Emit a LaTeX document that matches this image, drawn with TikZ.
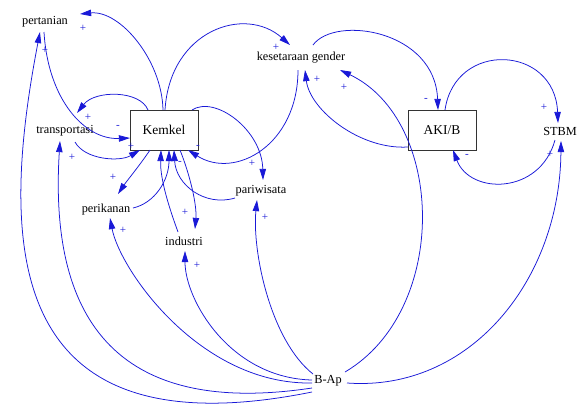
\documentclass[tikz,border=0pt]{standalone}
\usepackage{fontspec}
\setmainfont{Liberation Serif}
\usetikzlibrary{arrows.meta}
\definecolor{arcblue}{RGB}{25,25,215}
\tikzset{
  txt/.style={inner sep=1pt,font=\fontsize{10.5}{12}\selectfont},
  boxnode/.style={draw=black!80,line width=0.7pt,minimum width=2.04cm,minimum height=1.2cm,inner sep=0pt,font=\fontsize{11.5}{13}\selectfont},
  arc/.style={draw=arcblue,line width=0.65pt,-{Triangle[length=9.5pt,width=5.5pt]}},
  sgn/.style={text=arcblue,inner sep=0pt,font=\fontsize{9.5}{9.5}\selectfont}
}
\begin{document}
\begin{tikzpicture}[x=0.03cm,y=-0.03cm]
\useasboundingbox (0,0) rectangle (579,410);
% nodes
\node[txt] (pertanian) at (45,22) {pertanian};
\node[txt] (transportasi) at (65,131) {transportasi};
\node[boxnode] (kemkel) at (164,130) {Kemkel};
\node[txt] (gender) at (301,58) {kesetaraan gender};
\node[boxnode] (akib) at (442,130) {AKI/B};
\node[txt] (stbm) at (560,131) {STBM};
\node[txt] (pariwisata) at (261,191) {pariwisata};
\node[txt] (perikanan) at (106,210) {perikanan};
\node[txt] (industri) at (184,241) {industri};
\node[txt] (bap) at (328,381) {B-Ap};
% connectors
\draw[arc] ([shift={(-1,-20)}]kemkel.center) .. controls (162,60) and (120,10) .. ([shift={(35,-8)}]pertanian.center);
\draw[arc] ([shift={(1,-20)}]kemkel.center) .. controls (170,30) and (245,5) .. ([shift={(-11,-13)}]gender.center);
\draw[arc] ([shift={(-1,10)}]pertanian.center) .. controls (48,100) and (85,140) .. ([shift={(-34,8)}]kemkel.center);
\draw[arc] ([shift={(-16,-20)}]kemkel.center) .. controls (140,90) and (95,90) .. ([shift={(12,-18)}]transportasi.center);
\draw[arc] ([shift={(10,11)}]transportasi.center) .. controls (85,160) and (120,162) .. ([shift={(-24,20)}]kemkel.center);
\draw[arc] ([shift={(-14,20)}]kemkel.center) .. controls (140,165) and (126,182) .. ([shift={(12,-16)}]perikanan.center);
\draw[arc] ([shift={(27,-2)}]perikanan.center) .. controls (155,203) and (169,180) .. ([shift={(5,20)}]kemkel.center);
\draw[arc] ([shift={(-6,-9)}]industri.center) .. controls (170,210) and (160,180) .. ([shift={(-3,20)}]kemkel.center);
\draw[arc] ([shift={(16,20)}]kemkel.center) .. controls (190,175) and (197,205) .. ([shift={(11,-12)}]industri.center);
\draw[arc] ([shift={(-26,7)}]pariwisata.center) .. controls (205,207) and (176,185) .. ([shift={(10,20)}]kemkel.center);
\draw[arc] ([shift={(28,-20)}]kemkel.center) .. controls (215,95) and (262,130) .. ([shift={(2,-11)}]pariwisata.center);
\draw[arc] ([shift={(-3,12)}]gender.center) .. controls (298,145) and (235,180) .. ([shift={(24,20)}]kemkel.center);
\draw[arc] ([shift={(-34,17)}]akib.center) .. controls (360,150) and (310,110) .. ([shift={(4,12)}]gender.center);
\draw[arc] ([shift={(17,-9)}]bap.center) .. controls (450,310) and (445,120) .. ([shift={(39,12)}]gender.center);
\draw[arc] ([shift={(12,-13)}]gender.center) .. controls (335,15) and (435,30) .. ([shift={(-4,-20)}]akib.center);
\draw[arc] ([shift={(3,-20)}]akib.center) .. controls (455,40) and (555,45) .. ([shift={(-2,-8)}]stbm.center);
\draw[arc] ([shift={(-5,9)}]stbm.center) .. controls (540,195) and (470,195) .. ([shift={(11,20)}]akib.center);
\draw[arc] ([shift={(19,2)}]bap.center) .. controls (470,392) and (560,280) .. ([shift={(1,10)}]stbm.center);
\draw[arc] ([shift={(-15,-7)}]bap.center) .. controls (270,340) and (252,250) .. ([shift={(-4,9)}]pariwisata.center);
\draw[arc] ([shift={(-16,-1)}]bap.center) .. controls (230,378) and (185,300) .. ([shift={(1,10)}]industri.center);
\draw[arc] ([shift={(-16,2)}]bap.center) .. controls (200,385) and (120,270) .. ([shift={(4,8)}]perikanan.center);
\draw[arc] ([shift={(-16,7)}]bap.center) .. controls (100,420) and (50,300) .. ([shift={(-5,10)}]transportasi.center);
\draw[arc] ([shift={(-16,11)}]bap.center) .. controls (0,455) and (0,240) .. ([shift={(-5,10)}]pertanian.center);
% polarity signs
\node[sgn] (s1) at (83,28) {+};
\node[sgn] (s2) at (45,50) {+};
\node[sgn] (s3) at (276,47) {+};
\node[sgn] (s4) at (118,127) {-};
\node[sgn] (s5) at (88,117) {+};
\node[sgn] (s6) at (131,146) {+};
\node[sgn] (s7) at (72,157) {+};
\node[sgn] (s8) at (113,177) {+};
\node[sgn] (s9) at (123,230) {+};
\node[sgn] (s10) at (185,212) {+};
\node[sgn] (s11) at (197,265) {+};
\node[sgn] (s12) at (265,217) {+};
\node[sgn] (s13) at (252,163) {+};
\node[sgn] (s14) at (180,163) {-};
\node[sgn] (s15) at (198,147) {-};
\node[sgn] (s16) at (317,79) {+};
\node[sgn] (s17) at (344,87) {+};
\node[sgn] (s18) at (426,100) {-};
\node[sgn] (s19) at (544,107) {+};
\node[sgn] (s20) at (467,156) {-};
\node[sgn] (s21) at (550,154) {+};
\end{tikzpicture}
\end{document}
